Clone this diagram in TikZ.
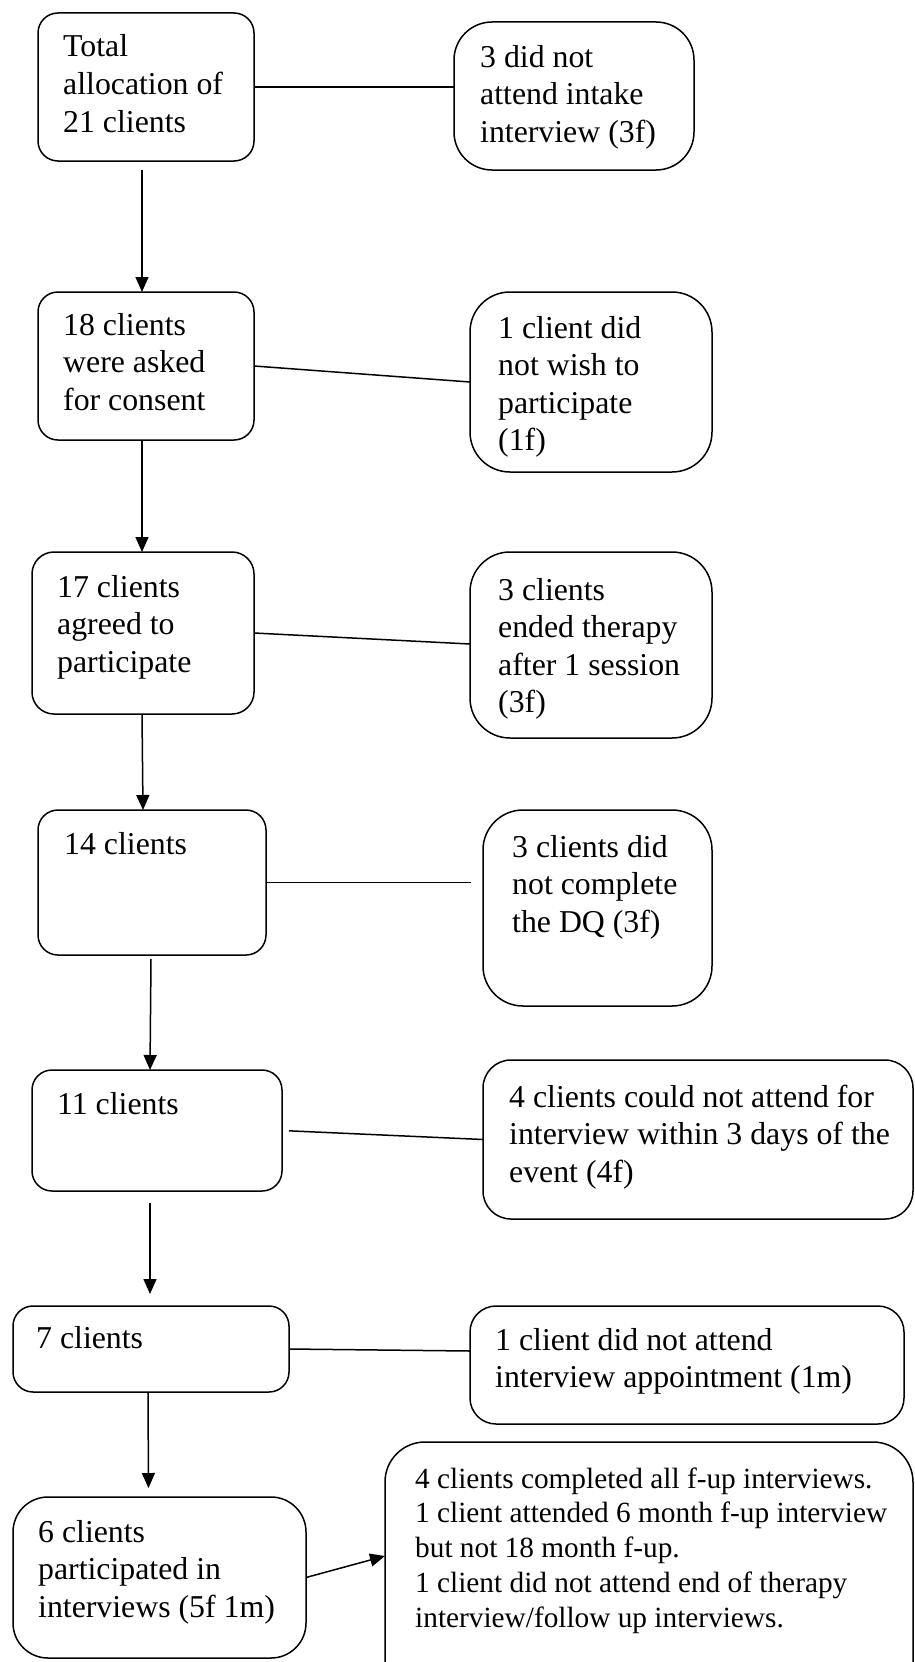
\documentclass[tikz,border=0pt]{standalone}
\usepackage{fontspec}
\setmainfont{Liberation Serif}
\usetikzlibrary{arrows.meta,calc}

% stacked lines, first baseline on the node's base
\newcommand\stack[1]{\begin{tabular}[t]{@{}l@{}}#1\end{tabular}}
\newcommand\bigtext{\fontsize{31.8pt}{37.6pt}\selectfont}
\newcommand\smalltext{\fontsize{29.3pt}{34.8pt}\selectfont}

\begin{document}
\begin{tikzpicture}[x=1pt,y=-1pt,
  box/.style={draw, line width=1.5pt, rounded corners=#1, anchor=north west,
    inner sep=0pt, outer sep=0pt},
  box/.default=20pt,
  txt/.style={anchor=base west, inner sep=0pt},
  link/.style={line width=1.5pt},
  flow/.style={line width=1.5pt, -{Triangle[length=15pt,width=13pt]}}]

\useasboundingbox (0,0) rectangle (915,1662);
\clip (0,0) rectangle (915,1662);

% main column
\node[box, minimum width=216pt, minimum height=148pt] (a) at (38,13) {};
\node[box, minimum width=216pt, minimum height=148pt] (b) at (38,292) {};
\node[box=22pt, minimum width=222pt, minimum height=162pt] (c) at (32,552) {};
\node[box, minimum width=228pt, minimum height=145pt] (d) at (38,810) {};
\node[box, minimum width=250pt, minimum height=121pt] (e) at (32,1070) {};
\node[box, minimum width=276pt, minimum height=86pt] (f) at (13,1306) {};
\node[box=35pt, minimum width=293pt, minimum height=161pt] (g) at (13,1497) {};

% exclusions
\node[box=38pt, minimum width=240pt, minimum height=148pt] (a2) at (454,22) {};
\node[box=40pt, minimum width=242pt, minimum height=180pt] (b2) at (470,292) {};
\node[box=40pt, minimum width=242pt, minimum height=186pt] (c2) at (470,552) {};
\node[box=40pt, minimum width=229pt, minimum height=196pt] (d2) at (483,810) {};
\node[box=28pt, minimum width=430pt, minimum height=159pt] (e2) at (483,1060) {};
\node[box=26pt, minimum width=434pt, minimum height=118pt] (f2) at (470,1306) {};
\node[box=40pt, minimum width=528pt, minimum height=280pt] (g2) at (385,1442) {};

% texts
\node[txt] (ta) at (63,57) {\bigtext\stack{Total\\allocation of\\21 clients}};
\node[txt] (tb) at (63,335) {\bigtext\stack{18 clients\\were asked\\for consent}};
\node[txt] (tc) at (57,597) {\bigtext\stack{17 clients\\agreed to\\participate}};
\node[txt] (td) at (64,854) {\bigtext 14 clients};
\node[txt] (te) at (57,1114) {\bigtext 11 clients};
\node[txt] (tf) at (36,1348) {\bigtext 7 clients};
\node[txt] (tg) at (38,1542) {\bigtext\stack{6 clients\\participated in\\interviews (5f 1m)}};

\node[txt] (ta2) at (480,67) {\bigtext\stack{3 did not\\attend intake\\interview (3f)}};
\node[txt] (tb2) at (498,338) {\bigtext\stack{1 client did\\not wish to\\participate\\(1f)}};
\node[txt] (tc2) at (498,600) {\bigtext\stack{3 clients\\ended therapy\\after 1 session\\(3f)}};
\node[txt] (td2) at (512,857) {\bigtext\stack{3 clients did\\not complete\\the DQ (3f)}};
\node[txt] (te2) at (509,1107) {\bigtext\stack{4 clients could not attend for\\interview within 3 days of the\\event (4f)}};
\node[txt] (tf2) at (495,1350) {\bigtext\stack{1 client did not attend\\interview appointment (1m)}};
\node[txt] (tg2) at (415,1488) {\smalltext\stack{4 clients completed all f-up interviews.\\1 client attended 6 month f-up interview\\but not 18 month f-up.\\1 client did not attend end of therapy\\interview/follow up interviews.}};

% flow arrows
\draw[flow] ([xshift=-4pt,yshift=-9pt]a.south) -- ([xshift=-4pt]b.north);
\draw[flow] ([xshift=-4pt]b.south) -- ([xshift=-1pt]c.north);
\draw[flow] ([xshift=-1pt]c.south) -- ([xshift=-9pt]d.north);
\draw[flow] ([xshift=-1pt,yshift=-4pt]d.south) -- ([xshift=-7pt]e.north);
\draw[flow] ([xshift=-7pt,yshift=-12pt]e.south) -- ([xshift=-1pt,yshift=12pt]f.north);
\draw[flow] ([xshift=-3pt]f.south) -- ([xshift=-11pt,yshift=9pt]g.north);

% exclusion links
\draw[link] (a.east) -- (a.east -| a2.west);
\draw[link] (b.east) -- (b2.west);
\draw[link] (c.east) -- ($(c2.west)+(0,-1)$);
\draw[link, shorten >=12pt] (d.east) -- (d.east -| d2.west);
\draw[link, shorten <=7pt] (e.east) -- (e2.west);
\draw[link] (f.east) -- ($(f2.west)+(0,-14)$);
\draw[flow] (g.east) -- ($(g2.north west)+(0,114)$);
\end{tikzpicture}
\end{document}
